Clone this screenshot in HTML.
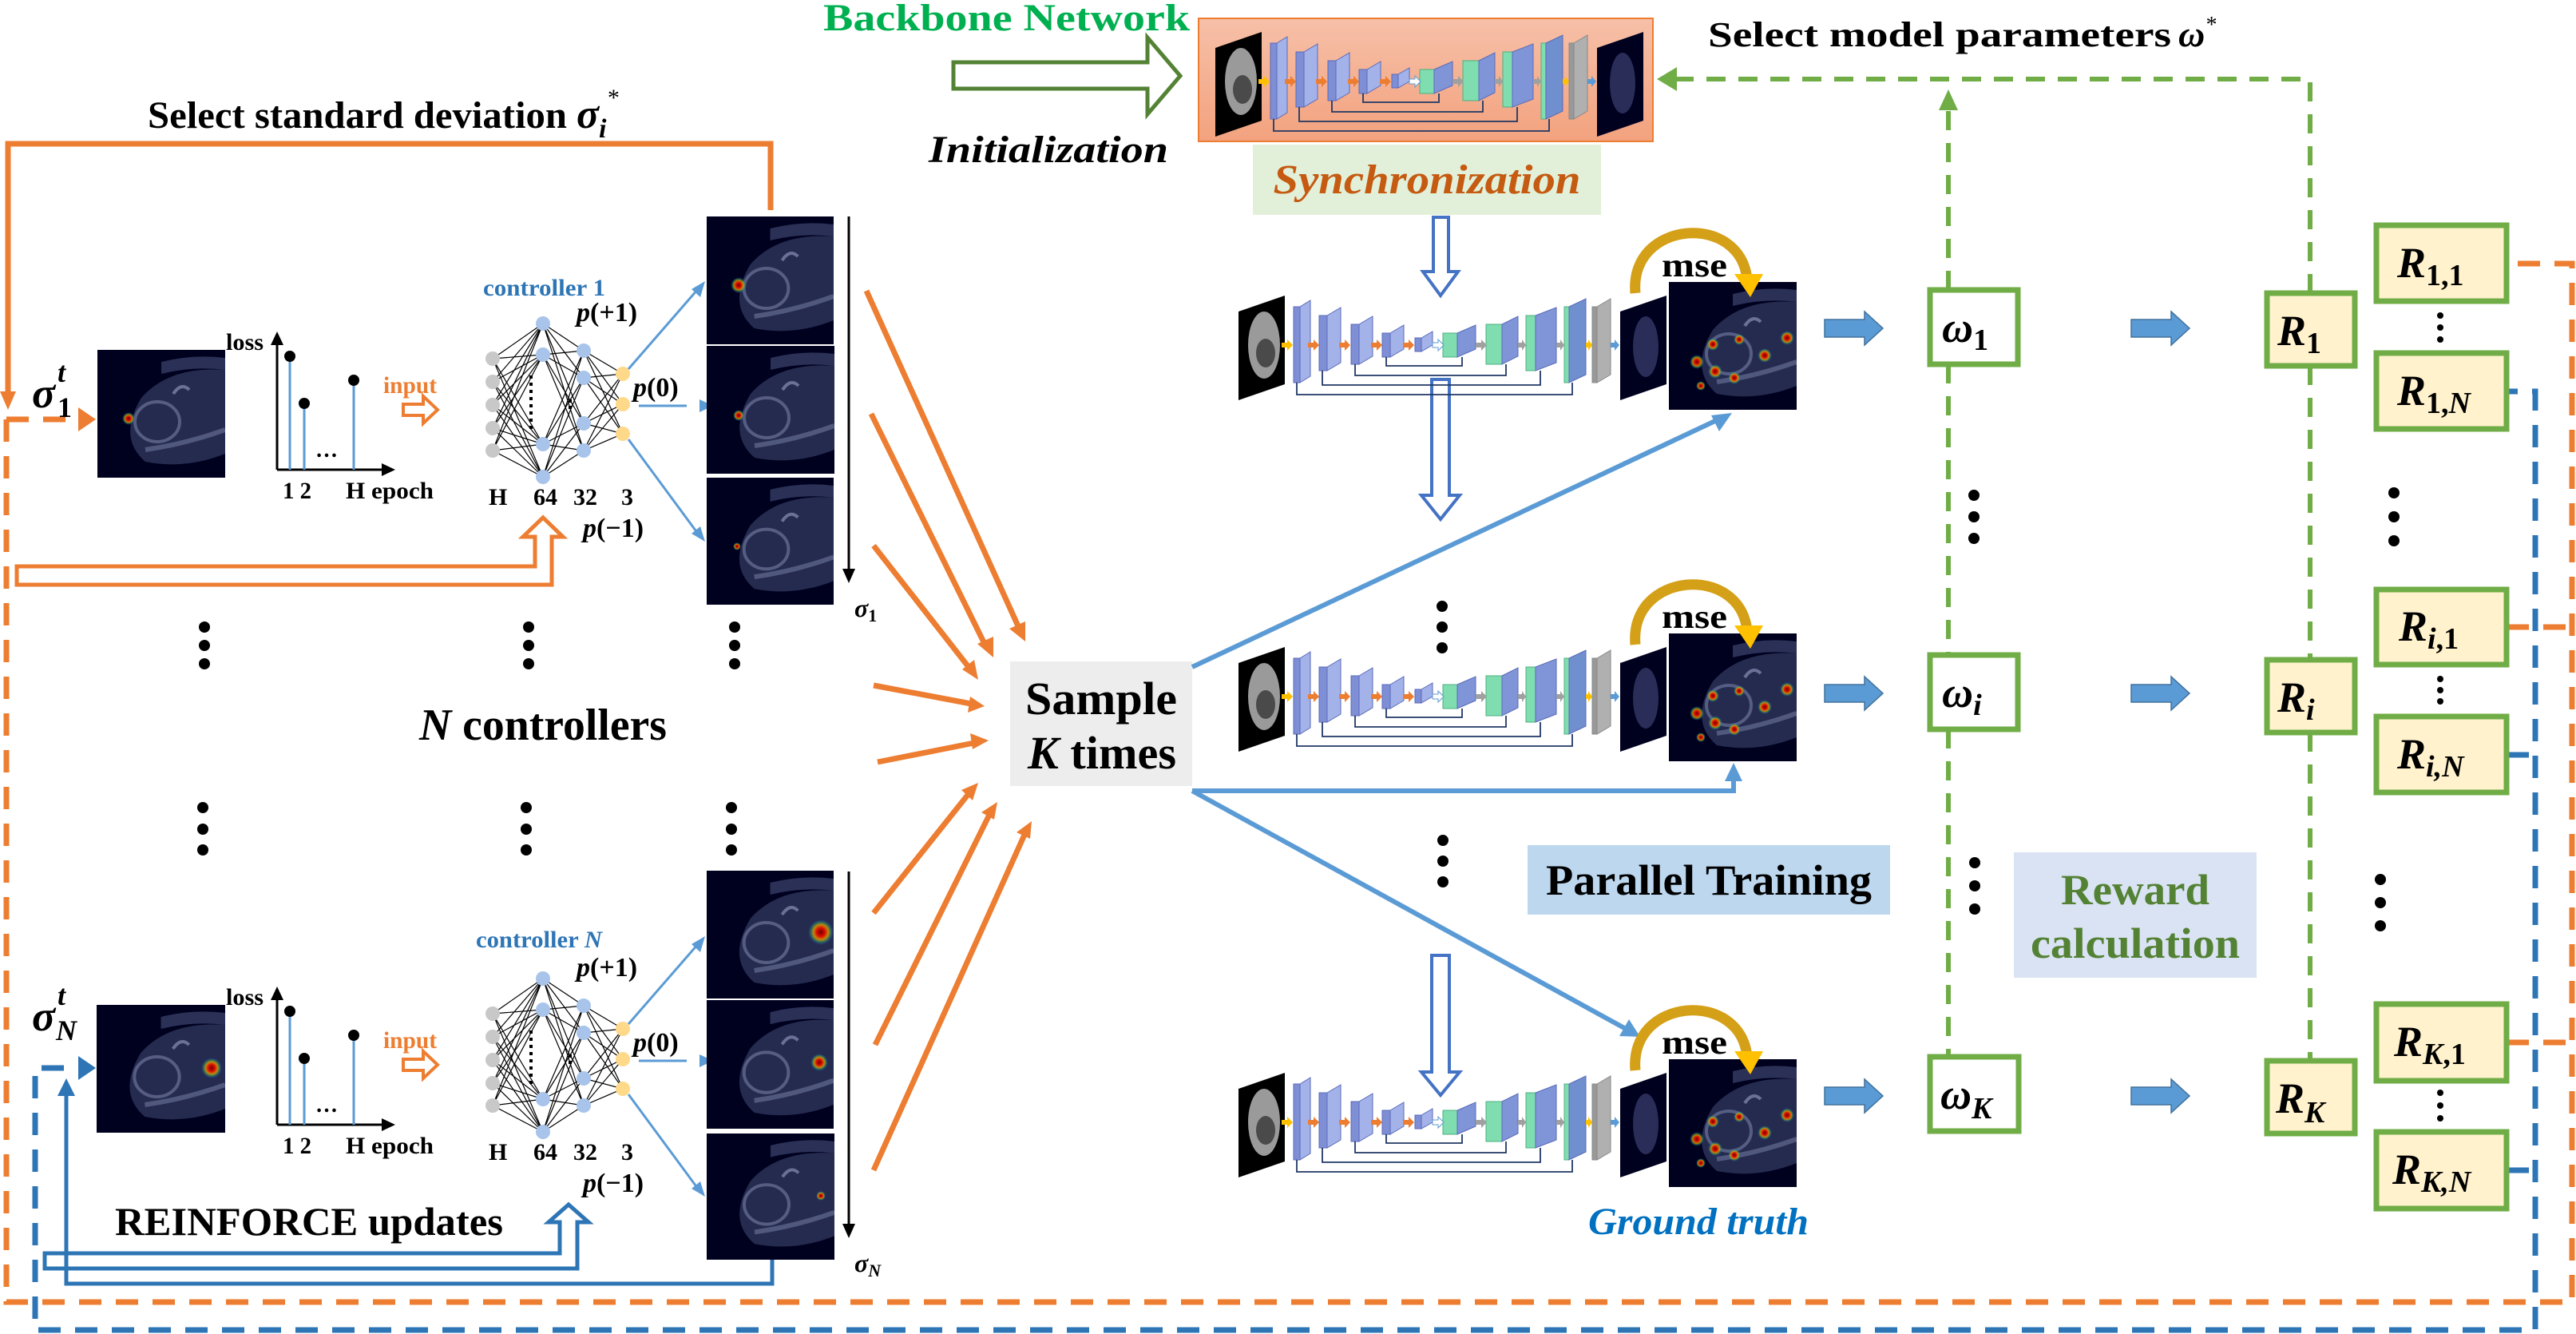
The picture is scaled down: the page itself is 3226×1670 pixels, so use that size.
<!DOCTYPE html>
<html><head><meta charset="utf-8"><style>
html,body{margin:0;padding:0;background:#fff}
svg{display:block}
text{font-family:"Liberation Serif",serif;font-weight:bold}
</style></head><body>
<svg width="3226" height="1670" viewBox="0 0 3226 1670" xmlns="http://www.w3.org/2000/svg">
<defs>
<radialGradient id="hot"><stop offset="0" stop-color="#700000"/><stop offset=".35" stop-color="#E01000"/><stop offset=".6" stop-color="#E0A000" stop-opacity=".8"/><stop offset=".8" stop-color="#30A060" stop-opacity=".5"/><stop offset="1" stop-color="#2040FF" stop-opacity="0"/></radialGradient>
<linearGradient id="bb" x1="0" y1="0" x2="0" y2="1"><stop offset="0" stop-color="#F6C0A8"/><stop offset="1" stop-color="#F3A27E"/></linearGradient>
<symbol id="us" viewBox="0 0 160 160" preserveAspectRatio="none">
<rect width="160" height="160" fill="#00001f"/>
<path d="M55 60 Q90 20 160 25 L160 130 Q110 150 60 140 Q25 110 55 60Z" fill="#4a5580" opacity=".5"/>
<path d="M80 15 Q120 5 160 10 L160 25 Q120 20 80 30Z" fill="#556090" opacity=".5"/>
<ellipse cx="75" cy="90" rx="28" ry="25" fill="none" stroke="#8890b8" stroke-width="4" opacity=".5"/>
<path d="M60 125 Q110 118 160 100" stroke="#8890b8" stroke-width="6" fill="none" opacity=".45"/>
<path d="M95 55 q10 -15 20 -5" stroke="#9aa0c8" stroke-width="4" fill="none" opacity=".6"/>
</symbol>
<g id="unet">
<polygon points="0,20 58,0 58,111 0,131" fill="#000"/>
<ellipse cx="32" cy="62" rx="20" ry="42" fill="#9a9a9a"/>
<ellipse cx="34" cy="72" rx="12" ry="18" fill="#4a4a4a"/>
<g fill="#7F8FD6" stroke="#5a6ab8" stroke-width="1">
<rect x="69" y="14" width="8" height="95"/><polygon points="77,14 90,6 90,101 77,109" fill="#A4B2EA"/>
<rect x="101" y="25" width="10" height="69"/><polygon points="111,25 128,15 128,84 111,94" fill="#A4B2EA"/>
<rect x="141" y="36" width="10" height="50"/><polygon points="151,36 168,26 168,76 151,86" fill="#A4B2EA"/>
<rect x="180" y="47" width="10" height="30"/><polygon points="190,47 207,37 207,67 190,77" fill="#A4B2EA"/>
<rect x="221" y="53" width="8" height="17"/><polygon points="229,53 243,45 243,62 229,70" fill="#A4B2EA"/>
<rect x="256" y="47" width="18" height="30" fill="#7FDDB0" stroke="#4fb080"/><polygon points="274,47 297,37 297,67 274,77" fill="#7F95D8"/>
<rect x="310" y="36" width="20" height="50" fill="#7FDDB0" stroke="#4fb080"/><polygon points="330,36 350,26 350,76 330,86" fill="#7F95D8"/>
<rect x="360" y="25" width="12" height="69" fill="#7FDDB0" stroke="#4fb080"/><polygon points="372,25 398,15 398,84 372,94" fill="#7F95D8"/>
<rect x="408" y="14" width="6" height="95" fill="#7FDDB0" stroke="#4fb080"/><polygon points="414,14 435,4 435,99 414,109" fill="#6F8FCF"/>
<rect x="443" y="14" width="6" height="95" fill="#999" stroke="#888"/><polygon points="449,14 466,4 466,99 449,109" fill="#B0B0B0" stroke="#888"/>
</g>
<polygon points="478,20 536,0 536,111 478,131" fill="#00001f"/>
<ellipse cx="510" cy="64" rx="16" ry="38" fill="#3a4070" opacity=".7"/>
<path d="M54 59h7v-4l7 7-7 7v-4h-7z" fill="#FFC000"/>
<path d="M87 59h7v-4l7 7-7 7v-4h-7z" fill="#ED7D31"/>
<path d="M126 59h7v-4l7 7-7 7v-4h-7z" fill="#ED7D31"/>
<path d="M166 59h7v-4l7 7-7 7v-4h-7z" fill="#ED7D31"/>
<path d="M206 59h7v-4l7 7-7 7v-4h-7z" fill="#ED7D31"/>
<path d="M243 59h7v-4l7 7-7 7v-4h-7z" fill="#fff" stroke="#5B9BD5" stroke-width="1"/>
<path d="M297 59h7v-4l7 7-7 7v-4h-7z" fill="#A0A0A0"/>
<path d="M350 59h5v-4l5 7-5 7v-4h-5z" fill="#A0A0A0"/>
<path d="M398 59h5v-4l5 7-5 7v-4h-5z" fill="#A0A0A0"/>
<path d="M435 59h3v-4l5 7-5 7v-4h-3z" fill="#FFC000"/>
<path d="M466 59h5v-4l6 7-6 7v-4h-5z" fill="#5B9BD5"/>
<path d="M185 77V88H280V77M146 86V100H335V86M105 94V112H378V94M73 109V124H418V109" fill="none" stroke="#203864" stroke-width="1.8"/>
</g>
<g id="ctrl">
<path d="M347 588V428M347 588H482" stroke="#000" stroke-width="3" fill="none"/>
<polygon points="339,432 347,415 355,432" fill="#000"/>
<polygon points="478,580 495,588 478,596" fill="#000"/>
<path d="M363 588V446M381 588V505M443 588V476" stroke="#5B9BD5" stroke-width="3"/>
<circle cx="363" cy="446" r="7"/><circle cx="381" cy="505" r="7"/><circle cx="443" cy="476" r="7"/>
<text x="283" y="438" font-size="30" font-weight="normal" textLength="47" lengthAdjust="spacingAndGlyphs">loss</text>
<text x="395" y="572" font-size="28">…</text>
<text x="354" y="624" font-size="30" font-weight="normal" textLength="36" lengthAdjust="spacingAndGlyphs">1 2</text>
<text x="433" y="624" font-size="30" font-weight="normal" textLength="110" lengthAdjust="spacingAndGlyphs">H epoch</text>
<text x="480" y="492" font-size="30" fill="#ED7D31" font-weight="normal" textLength="67" lengthAdjust="spacingAndGlyphs">input</text>
<path d="M505 506h25v-10l18 17-18 17v-10h-25z" fill="#fff" stroke="#ED7D31" stroke-width="4"/>
<g stroke="#000" stroke-width="1.2" fill="none">
<path d="M617 449L680 405M617 449L680 444M617 449L680 556M617 449L680 597M617 478L680 405M617 478L680 444M617 478L680 556M617 478L680 597M617 507L680 405M617 507L680 444M617 507L680 556M617 507L680 597M617 536L680 405M617 536L680 444M617 536L680 556M617 536L680 597M617 564L680 405M617 564L680 444M617 564L680 556M617 564L680 597"/>
<path d="M680 405L731 439M680 405L731 473M680 405L731 530M680 405L731 564M680 444L731 439M680 444L731 473M680 444L731 530M680 444L731 564M680 556L731 439M680 556L731 473M680 556L731 530M680 556L731 564M680 597L731 439M680 597L731 473M680 597L731 530M680 597L731 564"/>
<path d="M731 439L780 468M731 439L780 506M731 439L780 543M731 473L780 468M731 473L780 506M731 473L780 543M731 530L780 468M731 530L780 506M731 530L780 543M731 564L780 468M731 564L780 506M731 564L780 543"/>
</g>
<g fill="#C8C8C8"><circle cx="617" cy="449" r="9"/><circle cx="617" cy="478" r="9"/><circle cx="617" cy="507" r="9"/><circle cx="617" cy="536" r="9"/><circle cx="617" cy="564" r="9"/></g>
<g fill="#A8C4EA"><circle cx="680" cy="405" r="9"/><circle cx="680" cy="444" r="9"/><circle cx="680" cy="556" r="9"/><circle cx="680" cy="597" r="9"/><circle cx="731" cy="439" r="9"/><circle cx="731" cy="473" r="9"/><circle cx="731" cy="530" r="9"/><circle cx="731" cy="564" r="9"/></g>
<g fill="#FFD98A"><circle cx="780" cy="468" r="9"/><circle cx="780" cy="506" r="9"/><circle cx="780" cy="543" r="9"/></g>
<path d="M665 470V540" stroke="#000" stroke-width="4" stroke-dasharray="4 5"/>
<path d="M714 500V516" stroke="#000" stroke-width="4" stroke-dasharray="4 4"/>
<text x="612" y="632" font-size="30" font-weight="normal">H</text>
<text x="668" y="632" font-size="30" font-weight="normal">64</text>
<text x="718" y="632" font-size="30" font-weight="normal">32</text>
<text x="778" y="632" font-size="30" font-weight="normal">3</text>
<text x="722" y="402" font-size="34"><tspan font-style="italic">p</tspan>(+1)</text>
<text x="793" y="496" font-size="34"><tspan font-style="italic">p</tspan>(0)</text>
<text x="730" y="672" font-size="34"><tspan font-style="italic">p</tspan>(−1)</text>
<g stroke="#5B9BD5" stroke-width="3"><path d="M787 462L874 362M800 508H860M787 550L874 668"/></g>
<polygon points="883,352 877,372 866,362" fill="#5B9BD5"/>
<polygon points="876,500 893,508 876,516" fill="#5B9BD5"/>
<polygon points="883,678 866,668 877,659" fill="#5B9BD5"/>
<path d="M1063 271V715" stroke="#000" stroke-width="3"/>
<polygon points="1055,712 1063,730 1071,712" fill="#000"/>
</g>
<g id="hm">
<use href="#us" width="160" height="160"/>
<circle cx="35" cy="100" r="9" fill="url(#hot)"/><circle cx="55" cy="78" r="8" fill="url(#hot)"/><circle cx="58" cy="112" r="9" fill="url(#hot)"/>
<circle cx="88" cy="72" r="7" fill="url(#hot)"/><circle cx="120" cy="92" r="9" fill="url(#hot)"/><circle cx="82" cy="120" r="8" fill="url(#hot)"/><circle cx="148" cy="70" r="9" fill="url(#hot)"/><circle cx="40" cy="130" r="6" fill="url(#hot)"/>
</g>
<g id="mse">
<path d="M2048 367 C2040 275 2180 265 2188 350" stroke="#D4A017" stroke-width="13" fill="none"/>
<polygon points="2172,343 2208,343 2192,372" fill="#FFC000"/>
<text x="2081" y="346" font-size="42" font-weight="normal" textLength="82" lengthAdjust="spacingAndGlyphs">mse</text>
</g>
<path id="barr" d="M0 -11H50V-21L73 0L50 21V11H0Z" fill="#5B9BD5" stroke="#41719C" stroke-width="1.5"/>
</defs>

<text x="185" y="160" font-size="48" textLength="525" lengthAdjust="spacingAndGlyphs">Select standard deviation</text>
<text x="722" y="160" font-size="52" font-style="italic">σ<tspan font-size="34" dy="12">i</tspan><tspan font-size="30" dy="-40" font-weight="normal">*</tspan></text>

<path d="M10 492V180H965V263" stroke="#ED7D31" stroke-width="7" fill="none"/>
<polygon points="0,490 20,490 10,513" fill="#ED7D31"/>

<path d="M8 525V1630H3221V330H3139M3139 785H3221M3139 1305H3221M8 525H100" stroke="#ED7D31" stroke-width="7" fill="none" stroke-dasharray="28 18"/>
<polygon points="98,510 120,525 98,540" fill="#ED7D31"/>
<path d="M80 1337H44V1665H3175V490H3139M3139 945H3175M3139 1465H3175" stroke="#2E75B6" stroke-width="7" fill="none" stroke-dasharray="28 18"/>
<polygon points="98,1322 120,1337 98,1352" fill="#2E75B6"/>

<text x="40" y="510" font-size="54" font-style="italic">σ</text>
<text x="72" y="478" font-size="36" font-style="italic">t</text>
<text x="72" y="522" font-size="36">1</text>
<text x="40" y="1290" font-size="54" font-style="italic">σ</text>
<text x="72" y="1258" font-size="36" font-style="italic">t</text>
<text x="70" y="1302" font-size="36" font-style="italic">N</text>

<use href="#us" x="122" y="438" width="160" height="160"/>
<circle cx="161" cy="524" r="8" fill="url(#hot)"/>
<use href="#us" x="121" y="1258" width="161" height="160"/>
<circle cx="265" cy="1337" r="13" fill="url(#hot)"/>

<use href="#ctrl"/>
<use href="#ctrl" y="820"/>
<text x="605" y="370" font-size="30" fill="#2E75B6" textLength="153" lengthAdjust="spacingAndGlyphs">controller  1</text>
<text x="596" y="1186" font-size="30" fill="#2E75B6" textLength="158" lengthAdjust="spacingAndGlyphs">controller  <tspan font-style="italic">N</tspan></text>

<use href="#us" x="885" y="271" width="159" height="160"/>
<use href="#us" x="885" y="433" width="160" height="160"/>
<use href="#us" x="885" y="598" width="159" height="159"/>
<circle cx="925" cy="357" r="10" fill="url(#hot)"/><circle cx="925" cy="520" r="7" fill="url(#hot)"/><circle cx="923" cy="684" r="5" fill="url(#hot)"/>
<use href="#us" x="885" y="1090" width="159" height="160"/>
<use href="#us" x="885" y="1252" width="159" height="161"/>
<use href="#us" x="885" y="1419" width="160" height="158"/>
<circle cx="1028" cy="1167" r="16" fill="url(#hot)"/><circle cx="1026" cy="1330" r="11" fill="url(#hot)"/><circle cx="1028" cy="1497" r="6" fill="url(#hot)"/>
<text x="1070" y="772" font-size="32" font-style="italic">σ<tspan font-size="22" dy="6" font-style="normal">1</tspan></text>
<text x="1070" y="1592" font-size="32" font-style="italic">σ<tspan font-size="22" dy="6">N</tspan></text>

<path d="M21 709L670 709L670 672L655 672L680 648L705 672L691 672L691 732L21 732Z" fill="#fff" stroke="#ED7D31" stroke-width="5"/>
<path d="M56 1569L701 1569L701 1530L687 1530L712 1508L737 1530L723 1530L723 1588L56 1588Z" fill="#fff" stroke="#2E75B6" stroke-width="5"/>
<path d="M967 1577V1607H83V1368" stroke="#2E75B6" stroke-width="5" fill="none"/>
<polygon points="72,1372 83,1350 94,1372" fill="#2E75B6"/>
<text x="144" y="1546" font-size="50" textLength="486" lengthAdjust="spacingAndGlyphs">REINFORCE updates</text>

<g fill="#000">
<circle cx="256" cy="785" r="7"/><circle cx="256" cy="808" r="7"/><circle cx="256" cy="831" r="7"/>
<circle cx="662" cy="785" r="7"/><circle cx="662" cy="808" r="7"/><circle cx="662" cy="831" r="7"/>
<circle cx="920" cy="785" r="7"/><circle cx="920" cy="808" r="7"/><circle cx="920" cy="831" r="7"/>
<circle cx="254" cy="1011" r="7"/><circle cx="254" cy="1038" r="7"/><circle cx="254" cy="1064" r="7"/>
<circle cx="659" cy="1011" r="7"/><circle cx="659" cy="1038" r="7"/><circle cx="659" cy="1064" r="7"/>
<circle cx="916" cy="1011" r="7"/><circle cx="916" cy="1038" r="7"/><circle cx="916" cy="1064" r="7"/>
<circle cx="1806" cy="759" r="7"/><circle cx="1806" cy="785" r="7"/><circle cx="1806" cy="811" r="7"/>
<circle cx="1807" cy="1052" r="7"/><circle cx="1807" cy="1078" r="7"/><circle cx="1807" cy="1104" r="7"/>
<circle cx="2472" cy="620" r="7"/><circle cx="2472" cy="647" r="7"/><circle cx="2472" cy="674" r="7"/>
<circle cx="2473" cy="1080" r="7"/><circle cx="2473" cy="1109" r="7"/><circle cx="2473" cy="1138" r="7"/>
<circle cx="2998" cy="617" r="7"/><circle cx="2998" cy="647" r="7"/><circle cx="2998" cy="677" r="7"/>
<circle cx="2981" cy="1101" r="7"/><circle cx="2981" cy="1130" r="7"/><circle cx="2981" cy="1159" r="7"/>
<circle cx="3056" cy="395" r="4"/><circle cx="3056" cy="410" r="4"/><circle cx="3056" cy="425" r="4"/>
<circle cx="3056" cy="850" r="4"/><circle cx="3056" cy="864" r="4"/><circle cx="3056" cy="878" r="4"/>
<circle cx="3056" cy="1368" r="4"/><circle cx="3056" cy="1384" r="4"/><circle cx="3056" cy="1400" r="4"/>
</g>
<text x="680" y="926" font-size="56" text-anchor="middle" textLength="310" lengthAdjust="spacingAndGlyphs"><tspan font-style="italic">N</tspan> controllers</text>

<g stroke="#ED7D31" stroke-width="7">
<path d="M1085 364L1276 786M1091 518L1234 808M1094 683L1213 835M1094 858L1216 881M1099 954L1220 930M1094 1143L1212 995M1096 1308L1239 1020M1094 1465L1283 1045"/>
</g>
<g fill="#ED7D31">
<polygon points="1284,803 1264,787 1284,778"/>
<polygon points="1244,823 1224,806 1244,797"/>
<polygon points="1225,851 1205,838 1220,826"/>
<polygon points="1233,884 1212,892 1215,872"/>
<polygon points="1238,927 1218,938 1215,918"/>
<polygon points="1225,980 1218,1002 1204,989"/>
<polygon points="1249,1004 1245,1026 1229,1017"/>
<polygon points="1292,1028 1290,1050 1273,1042"/>
</g>

<rect x="1265" y="828" width="228" height="156" fill="#EDEDED"/>
<text x="1379" y="894" font-size="58" text-anchor="middle" textLength="190" lengthAdjust="spacingAndGlyphs">Sample</text>
<text x="1380" y="962" font-size="58" text-anchor="middle" textLength="186" lengthAdjust="spacingAndGlyphs"><tspan font-style="italic">K</tspan> times</text>

<g stroke="#5B9BD5" stroke-width="6" fill="none">
<path d="M1493 835L2150 526"/>
<path d="M1493 990H2171V975"/>
<path d="M1493 990L2036 1288"/>
</g>
<g fill="#5B9BD5">
<polygon points="2169,517 2153,540 2143,520"/>
<polygon points="2160,978 2171,955 2182,978"/>
<polygon points="2054,1298 2028,1297 2040,1276"/>
</g>

<text x="1031" y="38" font-size="48" fill="#00B050" textLength="459" lengthAdjust="spacingAndGlyphs">Backbone Network</text>
<path d="M1194 78H1437V47L1478 95L1437 143V111H1194Z" fill="#fff" stroke="#548235" stroke-width="5"/>
<text x="1163" y="203" font-size="48" font-style="italic" textLength="300" lengthAdjust="spacingAndGlyphs">Initialization</text>
<rect x="1501" y="23" width="569" height="154" fill="url(#bb)" stroke="#ED7D31" stroke-width="2"/>
<use href="#unet" x="1522" y="40"/>
<rect x="1569" y="181" width="436" height="88" fill="#E2F0D9"/>
<text x="1787" y="242" font-size="52" font-style="italic" fill="#C55A11" text-anchor="middle" textLength="385" lengthAdjust="spacingAndGlyphs">Synchronization</text>

<text x="2139" y="58" font-size="44" textLength="580" lengthAdjust="spacingAndGlyphs">Select model parameters</text>
<text x="2728" y="58" font-size="46" font-style="italic">ω<tspan font-size="28" dy="-18" font-weight="normal">*</tspan></text>

<g fill="#fff" stroke="#4472C4" stroke-width="4">
<path d="M1795 272H1814V340H1826L1804 370L1782 340H1795Z"/>
<path d="M1793 475H1815V620H1828L1804 650L1780 620H1793Z"/>
<path d="M1793 1196H1815V1342H1828L1804 1371L1780 1342H1793Z"/>
</g>

<use href="#unet" x="1551" y="370"/>
<use href="#unet" x="1551" y="810"/>
<use href="#unet" x="1551" y="1343"/>
<use href="#hm" x="2090" y="353"/>
<use href="#hm" x="2090" y="793"/>
<use href="#hm" x="2090" y="1326"/>
<use href="#mse"/>
<use href="#mse" y="440"/>
<use href="#mse" y="973"/>
<text x="1989" y="1545" font-size="48" font-style="italic" fill="#0070C0" textLength="276" lengthAdjust="spacingAndGlyphs">Ground truth</text>

<rect x="1913" y="1058" width="454" height="87" fill="#BDD7EE"/>
<text x="2140" y="1120" font-size="54" text-anchor="middle" textLength="408" lengthAdjust="spacingAndGlyphs">Parallel Training</text>
<rect x="2522" y="1067" width="304" height="157" fill="#DAE3F3"/>
<text x="2674" y="1132" font-size="54" fill="#548235" text-anchor="middle" textLength="186" lengthAdjust="spacingAndGlyphs">Reward</text>
<text x="2674" y="1199" font-size="54" fill="#548235" text-anchor="middle" textLength="262" lengthAdjust="spacingAndGlyphs">calculation</text>

<g stroke="#70AD47" stroke-width="6" fill="none" stroke-dasharray="24 16">
<path d="M2893 367V99H2098"/>
<path d="M2440 363V135M2440 456V820M2440 913V1323M2893 458V826M2893 917V1328"/>
</g>
<polygon points="2100,84 2075,99 2100,114" fill="#70AD47"/>
<polygon points="2428,138 2440,112 2452,138" fill="#70AD47"/>

<use href="#barr" x="2285" y="411"/><use href="#barr" x="2669" y="411"/>
<use href="#barr" x="2285" y="868"/><use href="#barr" x="2669" y="868"/>
<use href="#barr" x="2285" y="1372"/><use href="#barr" x="2669" y="1372"/>

<g fill="#fff" stroke="#70AD47" stroke-width="7">
<rect x="2417" y="363" width="110" height="93"/>
<rect x="2417" y="820" width="110" height="93"/>
<rect x="2417" y="1323" width="111" height="93"/>
</g>
<text x="2432" y="428" font-size="54" font-style="italic">ω<tspan font-size="38" dy="10" font-style="normal">1</tspan></text>
<text x="2432" y="885" font-size="54" font-style="italic">ω<tspan font-size="38" dy="10">i</tspan></text>
<text x="2430" y="1388" font-size="54" font-style="italic">ω<tspan font-size="38" dy="12">K</tspan></text>

<g fill="#FFF2CC" stroke="#70AD47" stroke-width="7">
<rect x="2839" y="367" width="110" height="91"/>
<rect x="2839" y="826" width="110" height="91"/>
<rect x="2839" y="1328" width="110" height="91"/>
<rect x="2976" y="282" width="163" height="95"/>
<rect x="2976" y="442" width="163" height="95"/>
<rect x="2976" y="738" width="163" height="94"/>
<rect x="2976" y="897" width="163" height="95"/>
<rect x="2976" y="1257" width="163" height="96"/>
<rect x="2976" y="1417" width="163" height="96"/>
</g>
<g font-size="54" font-style="italic">
<text x="2852" y="432">R<tspan font-size="38" dy="10" font-style="normal">1</tspan></text>
<text x="2852" y="891">R<tspan font-size="38" dy="10">i</tspan></text>
<text x="2850" y="1393">R<tspan font-size="38" dy="12">K</tspan></text>
<text x="3002" y="347">R<tspan font-size="38" dy="10" font-style="normal">1,1</tspan></text>
<text x="3002" y="507">R<tspan font-size="38" dy="10" font-style="normal">1,</tspan><tspan font-size="38">N</tspan></text>
<text x="3004" y="802">R<tspan font-size="38" dy="10">i</tspan><tspan font-size="38" font-style="normal">,1</tspan></text>
<text x="3002" y="962">R<tspan font-size="38" dy="10">i,N</tspan></text>
<text x="2998" y="1322">R<tspan font-size="38" dy="10">K</tspan><tspan font-size="38" font-style="normal">,1</tspan></text>
<text x="2996" y="1482">R<tspan font-size="38" dy="10">K,N</tspan></text>
</g>
</svg>
</body></html>
